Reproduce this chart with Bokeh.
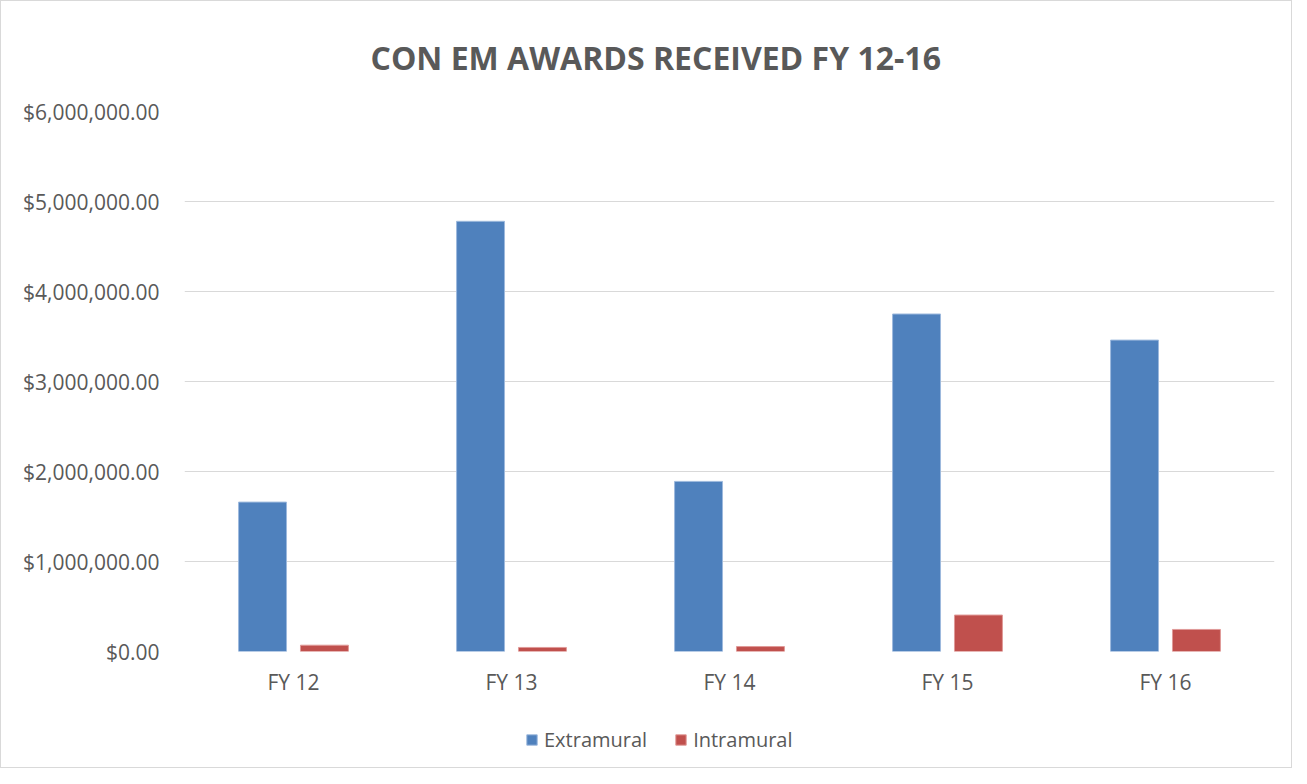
from bokeh.plotting import figure
from bokeh.layouts import column
from bokeh.models import (FactorRange, Range1d, FixedTicker, NumeralTickFormatter,
                          Legend, LegendItem, ColumnDataSource, Title)
from bokeh.transform import dodge
from bokeh.embed import file_html
from bokeh.resources import INLINE

categories = ["FY 12", "FY 13", "FY 14", "FY 15", "FY 16"]
extramural = [1660000, 4780000, 1890000, 3750000, 3460000]
intramural = [70000, 45000, 55000, 405000, 245000]
y_ticks = [0, 1000000, 2000000, 3000000, 4000000, 5000000, 6000000]
series_names = ["Extramural", "Intramural"]
series_colors = ["#4F81BD", "#C0504D"]
series_edges = ["#9DB9DD", "#E09A98"]

FONT = "Open Sans"
TXT = "#595959"
GRID = "#D9D9D9"

src = ColumnDataSource(dict(cat=categories, ext=extramural, intr=intramural))

W = 1290
p = figure(width=W, height=700, x_range=FactorRange(*categories),
           y_range=Range1d(0, 6000000), output_backend="svg",
           toolbar_location=None,
           min_border_left=183, min_border_right=17,
           min_border_top=110, min_border_bottom=50)

p.vbar(x=dodge("cat", -0.142, range=p.x_range), top="ext", width=0.22,
       source=src, fill_color=series_colors[0], line_color=series_edges[0], line_width=1)
p.vbar(x=dodge("cat", 0.142, range=p.x_range), top="intr", width=0.22,
       source=src, fill_color=series_colors[1], line_color=series_edges[1], line_width=1)

p.title = Title(text="CON EM AWARDS RECEIVED FY 12-16", align="left",
                text_font=FONT, text_font_size="32px", text_font_style="bold",
                text_color=TXT, offset=186)
p.title.standoff = 65

p.outline_line_color = None
p.xgrid.grid_line_color = None
p.ygrid.grid_line_color = GRID
p.ygrid.grid_line_width = 1

p.yaxis.ticker = FixedTicker(ticks=y_ticks)
p.yaxis.formatter = NumeralTickFormatter(format="$0,0.00")
for ax in (p.xaxis[0], p.yaxis[0]):
    ax.axis_line_color = None
    ax.major_tick_line_color = None
    ax.minor_tick_line_color = None
    ax.major_label_text_font = FONT
    ax.major_label_text_font_size = "21px"
    ax.major_label_text_color = TXT
p.yaxis.major_label_standoff = 19
p.xaxis.major_label_standoff = 10

# legend strip below the chart
lg = figure(width=W, height=66, output_backend="svg", toolbar_location=None,
            x_range=Range1d(0, 1), y_range=Range1d(0, 1),
            min_border=0, outline_line_color=None)
lg.axis.visible = False
lg.grid.visible = False
items = []
for name, col, edge in zip(series_names, series_colors, series_edges):
    r = lg.vbar(x=[-5], top=[-5], bottom=[-6], width=0.1, fill_color=col, line_color=edge)
    items.append(LegendItem(label=name, renderers=[r]))
legend = Legend(items=items, orientation="horizontal", location=(341, 14),
                label_text_font=FONT, label_text_font_size="20px",
                label_text_color=TXT, glyph_width=13, glyph_height=13,
                label_standoff=6, spacing=27, border_line_color=None,
                background_fill_alpha=0, padding=0, margin=0)
lg.add_layout(legend, "center")

layout = column(p, lg, spacing=0)
layout.styles = {"border": "1px solid #D9D9D9"}

open("out.html", "w").write(file_html(layout, INLINE))
